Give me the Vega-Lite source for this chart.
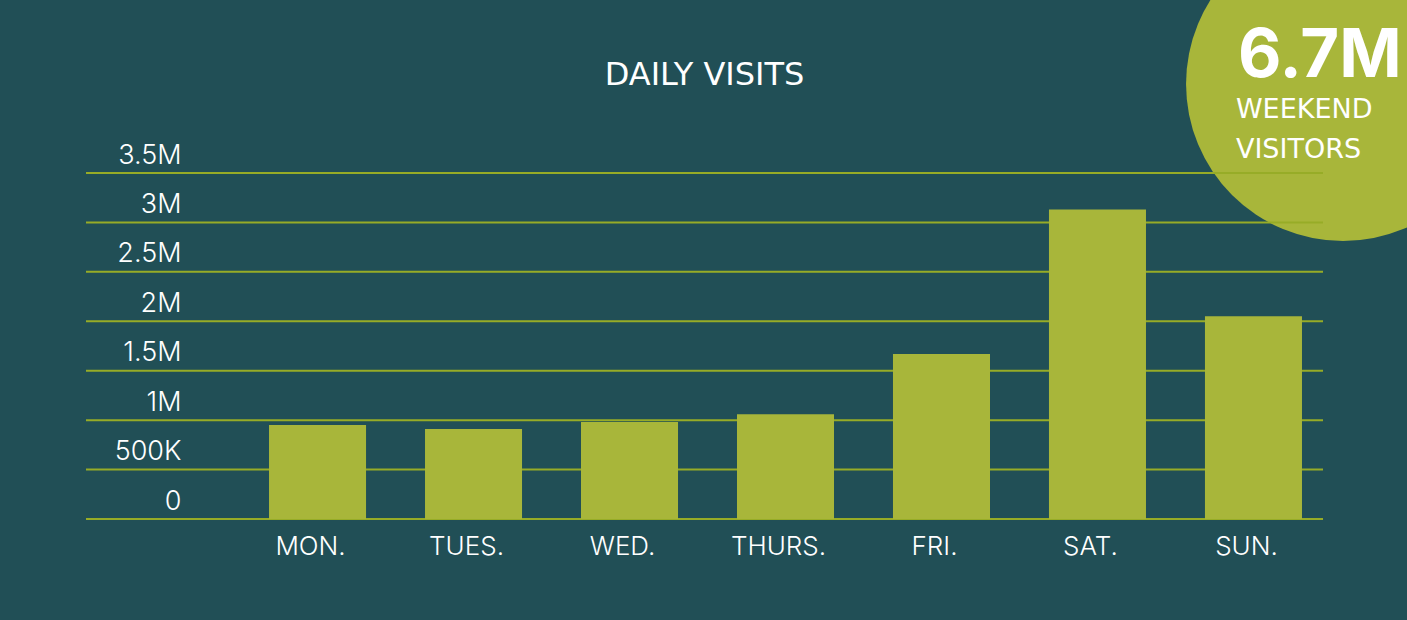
{
  "$schema": "https://vega.github.io/schema/vega-lite/v6.json",
  "width": 1237,
  "height": 346,
  "autosize": {"type": "none"},
  "padding": {"left": 86, "top": 173, "right": 84, "bottom": 101},
  "background": "#214f56",
  "config": {"view": {"stroke": null}, "font": "Inter"},
  "datasets": {
    "visits": [
      {"day": "MON.", "visits": 950000},
      {"day": "TUES.", "visits": 910000},
      {"day": "WED.", "visits": 980000},
      {"day": "THURS.", "visits": 1060000},
      {"day": "FRI.", "visits": 1670000},
      {"day": "SAT.", "visits": 3130000},
      {"day": "SUN.", "visits": 2050000}
    ],
    "grid": [
      {"value": 0}, {"value": 500000}, {"value": 1000000}, {"value": 1500000},
      {"value": 2000000}, {"value": 2500000}, {"value": 3000000}, {"value": 3500000}
    ],
    "badge": [{"bx": 1.0162, "by": 1.2572}],
    "labels": [
      {"bx": 0.5, "by": 1.2543, "label": "DAILY VISITS", "kind": "title"},
      {"bx": 0.9313, "by": 1.2775, "label": "6.7M", "kind": "big"},
      {"bx": 0.9296, "by": 1.1590, "label": "WEEKEND", "kind": "small"},
      {"bx": 0.9296, "by": 1.0434, "label": "VISITORS", "kind": "small"}
    ]
  },
  "layer": [
    {
      "data": {"name": "badge"},
      "mark": {"type": "point", "shape": "circle", "filled": true, "size": 98596, "color": "#a8b63a", "opacity": 1, "clip": false},
      "encoding": {
        "x": {"field": "bx", "type": "quantitative", "scale": {"domain": [0, 1], "nice": false, "zero": false}, "axis": null},
        "y": {"field": "by", "type": "quantitative", "scale": {"domain": [0, 1], "nice": false, "zero": false}, "axis": null}
      }
    },
    {
      "data": {"name": "grid"},
      "mark": {"type": "rule", "color": "#97ac27", "strokeWidth": 2},
      "encoding": {
        "y": {"field": "value", "type": "quantitative", "scale": {"domain": [0, 3500000], "nice": false}, "axis": null}
      }
    },
    {
      "data": {"name": "visits"},
      "mark": {"type": "bar", "color": "#a8b63a"},
      "encoding": {
        "x": {
          "field": "day",
          "type": "nominal",
          "sort": null,
          "scale": {"domain": ["MON.", "TUES.", "WED.", "THURS.", "FRI.", "SAT.", "SUN."], "paddingInner": 0.378, "paddingOuter": 0.654, "align": 0.897},
          "axis": {
            "title": null,
            "domain": false,
            "ticks": false,
            "tickSize": 0,
            "labelAngle": 0,
            "labelFont": "Inter",
            "labelFontSize": 26,
            "labelFontWeight": 300,
            "labelColor": "#ffffff",
            "labelBaseline": "alphabetic",
            "labelPadding": 35,
            "labelOffset": -7
          }
        },
        "y": {
          "field": "visits",
          "type": "quantitative",
          "scale": {"domain": [0, 3500000], "nice": false},
          "axis": {
            "title": null,
            "domain": false,
            "ticks": false,
            "tickSize": 0,
            "grid": false,
            "values": [0, 500000, 1000000, 1500000, 2000000, 2500000, 3000000, 3500000],
            "labelExpr": "datum.value >= 1000000 ? (datum.value / 1000000) + 'M' : (datum.value > 0 ? (datum.value / 1000) + 'K' : '0')",
            "labelFont": "Inter",
            "labelFontSize": 27,
            "labelFontWeight": 300,
            "labelColor": "#ffffff",
            "labelAlign": "right",
            "labelBaseline": "alphabetic",
            "labelPadding": -95,
            "labelOffset": -10
          }
        }
      }
    },
    {
      "data": {"name": "labels"},
      "transform": [{"filter": "datum.kind === 'title'"}],
      "mark": {"type": "text", "align": "center", "baseline": "alphabetic", "font": "DejaVu Sans", "fontSize": 32, "color": "#ffffff", "clip": false},
      "encoding": {
        "x": {"field": "bx", "type": "quantitative", "scale": {"domain": [0, 1], "nice": false, "zero": false}, "axis": null},
        "y": {"field": "by", "type": "quantitative", "scale": {"domain": [0, 1], "nice": false, "zero": false}, "axis": null},
        "text": {"field": "label"}
      }
    },
    {
      "data": {"name": "labels"},
      "transform": [{"filter": "datum.kind === 'big'"}],
      "mark": {"type": "text", "align": "left", "baseline": "alphabetic", "font": "Inter", "fontWeight": "bold", "fontSize": 67, "color": "#ffffff", "clip": false},
      "encoding": {
        "x": {"field": "bx", "type": "quantitative", "scale": {"domain": [0, 1], "nice": false, "zero": false}, "axis": null},
        "y": {"field": "by", "type": "quantitative", "scale": {"domain": [0, 1], "nice": false, "zero": false}, "axis": null},
        "text": {"field": "label"}
      }
    },
    {
      "data": {"name": "labels"},
      "transform": [{"filter": "datum.kind === 'small'"}],
      "mark": {"type": "text", "align": "left", "baseline": "alphabetic", "font": "DejaVu Sans", "fontSize": 27, "color": "#ffffff", "clip": false},
      "encoding": {
        "x": {"field": "bx", "type": "quantitative", "scale": {"domain": [0, 1], "nice": false, "zero": false}, "axis": null},
        "y": {"field": "by", "type": "quantitative", "scale": {"domain": [0, 1], "nice": false, "zero": false}, "axis": null},
        "text": {"field": "label"}
      }
    }
  ],
  "resolve": {"scale": {"x": "independent", "y": "independent"}}
}
